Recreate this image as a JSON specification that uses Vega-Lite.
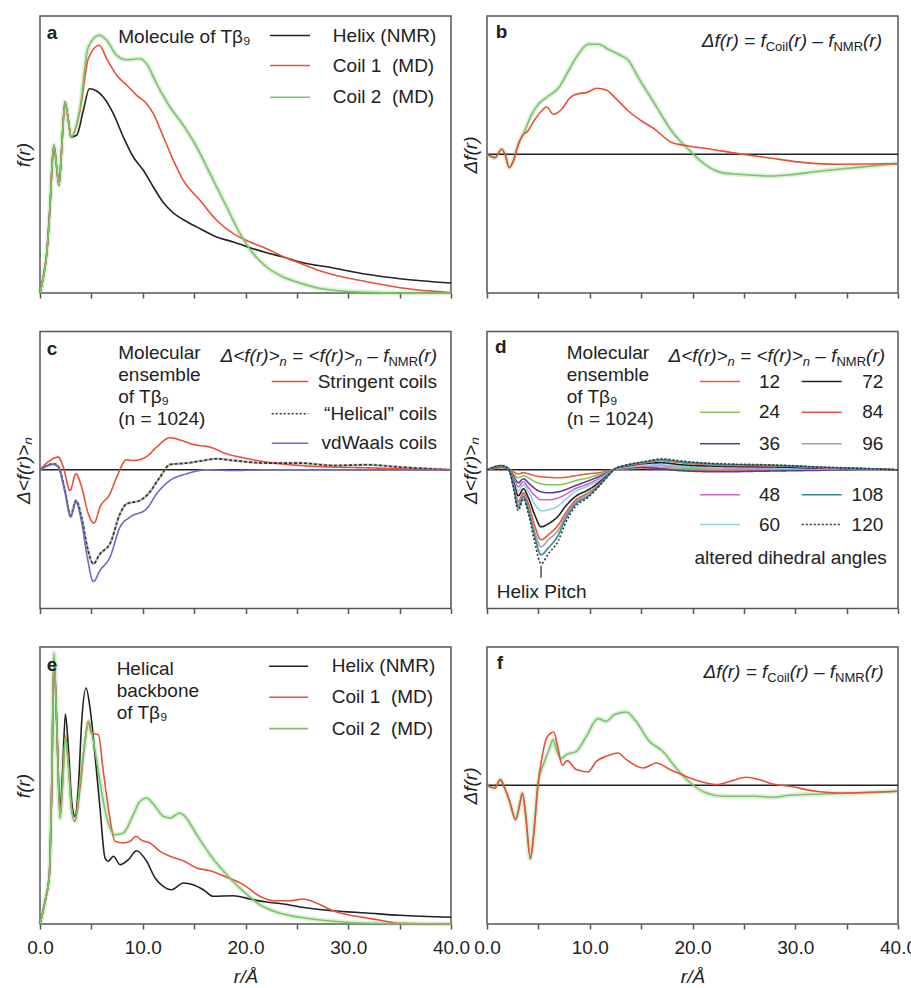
{
"$schema": "https://vega.github.io/schema/vega-lite/v6.json",
"background": "white",
"padding": {"left": 13, "top": 15, "right": 0, "bottom": 0},
"config": {
  "view": {"stroke": "#555555", "strokeWidth": 1.5},
  "font": "Liberation Sans",
  "text": {"font": "Liberation Sans", "fontSize": 19, "color": "#222222", "baseline": "middle", "align": "left"},
  "line": {"strokeWidth": 1.6, "interpolate": "monotone"},
  "rule": {"strokeWidth": 1.6},
  "axisX": {"values": [0,5,10,15,20,25,30,35,40], "labels": false, "domain": false, "grid": false, "ticks": true, "tickSize": 5, "tickWidth": 1.5, "tickColor": "#555555"},
  "axisY": {"labels": false, "ticks": false, "domain": false, "grid": false, "titleFont": "Liberation Sans", "titleFontSize": 19, "titleFontStyle": "italic", "titleFontWeight": "normal", "titleColor": "#222222", "titlePadding": 7}
},
"bounds": "flush",
"columns": 2,
"spacing": {"row": 38.5, "column": 36},
"resolve": {"scale": {"color": "independent", "strokeDash": "independent"}},
"datasets": {
"a": [
{"s":"Helix","r":0,"v":0},{"s":"Helix","r":0.32,"v":16},{"s":"Helix","r":0.65,"v":39},{"s":"Helix","r":0.97,"v":86},{"s":"Helix","r":1.23,"v":136},{"s":"Helix","r":1.36,"v":147.7},{"s":"Helix","r":1.62,"v":126},{"s":"Helix","r":1.85,"v":107.7},{"s":"Helix","r":2.1,"v":142.7},{"s":"Helix","r":2.43,"v":191},{"s":"Helix","r":2.76,"v":172.7},{"s":"Helix","r":3.02,"v":156},
{"s":"Helix","r":3.57,"v":157.7},{"s":"Helix","r":4.22,"v":182.7},{"s":"Helix","r":4.8,"v":204.3},{"s":"Helix","r":5.52,"v":202},{"s":"Helix","r":6.16,"v":196},{"s":"Helix","r":7.14,"v":179.3},{"s":"Helix","r":8.11,"v":156},{"s":"Helix","r":9.08,"v":136},{"s":"Helix","r":10.06,"v":122.7},{"s":"Helix","r":11.03,"v":106},{"s":"Helix","r":12.0,"v":90.5},{"s":"Helix","r":12.98,"v":80},{"s":"Helix","r":14.27,"v":71.5},{"s":"Helix","r":15.57,"v":64.3},{"s":"Helix","r":17.19,"v":56},{"s":"Helix","r":18.82,"v":51},{"s":"Helix","r":20.44,"v":45.3},{"s":"Helix","r":22.06,"v":40.3},{"s":"Helix","r":23.68,"v":36},{"s":"Helix","r":25.3,"v":31},{"s":"Helix","r":28.55,"v":25},{"s":"Helix","r":31.79,"v":18.7},{"s":"Helix","r":35.04,"v":14.3},{"s":"Helix","r":40,"v":10},
{"s":"Coil 1","r":0,"v":0},{"s":"Coil 1","r":0.32,"v":16},{"s":"Coil 1","r":0.65,"v":39},{"s":"Coil 1","r":0.97,"v":86},{"s":"Coil 1","r":1.23,"v":136},{"s":"Coil 1","r":1.36,"v":147.7},{"s":"Coil 1","r":1.62,"v":126},{"s":"Coil 1","r":1.85,"v":107.7},{"s":"Coil 1","r":2.1,"v":142.7},{"s":"Coil 1","r":2.43,"v":191},{"s":"Coil 1","r":2.76,"v":172.7},{"s":"Coil 1","r":3.02,"v":156},
{"s":"Coil 1","r":3.89,"v":182.7},{"s":"Coil 1","r":4.7,"v":234.3},{"s":"Coil 1","r":5.77,"v":247.7},{"s":"Coil 1","r":6.49,"v":234.3},{"s":"Coil 1","r":7.46,"v":217.7},{"s":"Coil 1","r":8.43,"v":208},{"s":"Coil 1","r":9.41,"v":197.7},{"s":"Coil 1","r":10.38,"v":189.3},{"s":"Coil 1","r":11.03,"v":179.3},{"s":"Coil 1","r":12.0,"v":156.3},{"s":"Coil 1","r":12.98,"v":132.7},{"s":"Coil 1","r":13.95,"v":112.7},{"s":"Coil 1","r":15.57,"v":92.7},{"s":"Coil 1","r":17.19,"v":72.7},{"s":"Coil 1","r":18.82,"v":59.3},{"s":"Coil 1","r":20.44,"v":51},{"s":"Coil 1","r":22.06,"v":44.3},{"s":"Coil 1","r":23.68,"v":36.3},{"s":"Coil 1","r":25.3,"v":29.7},{"s":"Coil 1","r":26.93,"v":23.3},{"s":"Coil 1","r":28.55,"v":18.3},{"s":"Coil 1","r":31.79,"v":11.3},{"s":"Coil 1","r":35.04,"v":5.3},{"s":"Coil 1","r":38.28,"v":1.7},{"s":"Coil 1","r":40,"v":0.3},
{"s":"Coil 2","r":0,"v":0},{"s":"Coil 2","r":0.32,"v":16},{"s":"Coil 2","r":0.65,"v":39},{"s":"Coil 2","r":0.97,"v":86},{"s":"Coil 2","r":1.23,"v":136},{"s":"Coil 2","r":1.36,"v":147.7},{"s":"Coil 2","r":1.62,"v":126},{"s":"Coil 2","r":1.85,"v":107.7},{"s":"Coil 2","r":2.1,"v":142.7},{"s":"Coil 2","r":2.43,"v":191},{"s":"Coil 2","r":2.76,"v":172.7},{"s":"Coil 2","r":3.02,"v":156},
{"s":"Coil 2","r":3.89,"v":184.3},{"s":"Coil 2","r":4.61,"v":242.7},{"s":"Coil 2","r":5.03,"v":252},{"s":"Coil 2","r":5.77,"v":257.7},{"s":"Coil 2","r":6.49,"v":252.7},{"s":"Coil 2","r":7.46,"v":237.7},{"s":"Coil 2","r":8.43,"v":233.3},{"s":"Coil 2","r":9.73,"v":234.3},{"s":"Coil 2","r":10.38,"v":229.3},{"s":"Coil 2","r":11.35,"v":209.3},{"s":"Coil 2","r":12.65,"v":186},{"s":"Coil 2","r":13.95,"v":167.7},{"s":"Coil 2","r":15.25,"v":146},{"s":"Coil 2","r":16.55,"v":119.3},{"s":"Coil 2","r":18.17,"v":86},{"s":"Coil 2","r":19.47,"v":59.3},{"s":"Coil 2","r":20.76,"v":39.3},{"s":"Coil 2","r":22.06,"v":26},{"s":"Coil 2","r":23.68,"v":16},{"s":"Coil 2","r":25.3,"v":10},{"s":"Coil 2","r":26.93,"v":5.3},{"s":"Coil 2","r":28.55,"v":2.7},{"s":"Coil 2","r":31.79,"v":0.7},{"s":"Coil 2","r":35.04,"v":0},{"s":"Coil 2","r":40,"v":0}
],
"b": [
{"s":"Coil 2","r":0,"v":0},{"s":"Coil 2","r":0.78,"v":-3.3},{"s":"Coil 2","r":1.43,"v":5},{"s":"Coil 2","r":1.75,"v":0},{"s":"Coil 2","r":2.17,"v":-13.3},{"s":"Coil 2","r":2.56,"v":-6.7},{"s":"Coil 2","r":3.05,"v":10},{"s":"Coil 2","r":3.54,"v":20},{"s":"Coil 2","r":4.35,"v":40},{"s":"Coil 2","r":5.0,"v":50},{"s":"Coil 2","r":5.97,"v":58.3},{"s":"Coil 2","r":6.94,"v":66},{"s":"Coil 2","r":7.92,"v":83.3},{"s":"Coil 2","r":8.89,"v":100},{"s":"Coil 2","r":9.86,"v":110},{"s":"Coil 2","r":10.84,"v":110},{"s":"Coil 2","r":11.8,"v":105},{"s":"Coil 2","r":12.78,"v":100},{"s":"Coil 2","r":13.76,"v":94},{"s":"Coil 2","r":14.73,"v":76.7},{"s":"Coil 2","r":16.35,"v":50},{"s":"Coil 2","r":17.97,"v":23.3},{"s":"Coil 2","r":19.6,"v":5},{"s":"Coil 2","r":21.2,"v":-10},{"s":"Coil 2","r":22.84,"v":-18.3},{"s":"Coil 2","r":24.46,"v":-20},{"s":"Coil 2","r":27.7,"v":-21.7},{"s":"Coil 2","r":29.3,"v":-20.7},{"s":"Coil 2","r":32.57,"v":-16.7},{"s":"Coil 2","r":35.8,"v":-13.3},{"s":"Coil 2","r":40,"v":-9},
{"s":"Coil 1","r":0,"v":0},{"s":"Coil 1","r":0.78,"v":-3.3},{"s":"Coil 1","r":1.43,"v":5},{"s":"Coil 1","r":1.75,"v":0},{"s":"Coil 1","r":2.17,"v":-13.3},{"s":"Coil 1","r":2.56,"v":-6.7},{"s":"Coil 1","r":3.05,"v":10},{"s":"Coil 1","r":3.54,"v":20},{"s":"Coil 1","r":3.86,"v":22},{"s":"Coil 1","r":4.67,"v":35},{"s":"Coil 1","r":5.3,"v":43.3},{"s":"Coil 1","r":5.8,"v":47.3},{"s":"Coil 1","r":6.46,"v":40},{"s":"Coil 1","r":7.27,"v":45},{"s":"Coil 1","r":8.08,"v":56.7},{"s":"Coil 1","r":8.89,"v":60.7},{"s":"Coil 1","r":9.7,"v":61.7},{"s":"Coil 1","r":10.67,"v":66},{"s":"Coil 1","r":11.65,"v":64},{"s":"Coil 1","r":12.46,"v":56.7},{"s":"Coil 1","r":13.76,"v":43.3},{"s":"Coil 1","r":15.05,"v":33.3},{"s":"Coil 1","r":16.35,"v":25},{"s":"Coil 1","r":17.97,"v":11.7},{"s":"Coil 1","r":19.6,"v":8.3},{"s":"Coil 1","r":21.2,"v":6},{"s":"Coil 1","r":24.46,"v":0.7},{"s":"Coil 1","r":27.7,"v":-4},{"s":"Coil 1","r":30.9,"v":-8.3},{"s":"Coil 1","r":34.2,"v":-10},{"s":"Coil 1","r":40,"v":-9.5}
],
"c": [
{"s":"Stringent","r":0,"v":0},{"s":"Stringent","r":0.97,"v":9.3},{"s":"Stringent","r":1.78,"v":12.7},{"s":"Stringent","r":2.27,"v":2.7},{"s":"Stringent","r":2.92,"v":-20.7},{"s":"Stringent","r":3.5,"v":-4},{"s":"Stringent","r":4.05,"v":-17.3},{"s":"Stringent","r":4.7,"v":-44},{"s":"Stringent","r":5.26,"v":-53.3},{"s":"Stringent","r":5.84,"v":-37.3},{"s":"Stringent","r":6.81,"v":-24},{"s":"Stringent","r":7.46,"v":-7.3},{"s":"Stringent","r":8.43,"v":10},{"s":"Stringent","r":9.08,"v":9.3},{"s":"Stringent","r":10.38,"v":13.3},{"s":"Stringent","r":11.35,"v":22.7},{"s":"Stringent","r":12.65,"v":32},{"s":"Stringent","r":13.6,"v":30},{"s":"Stringent","r":14.92,"v":25.3},{"s":"Stringent","r":16.55,"v":22.7},{"s":"Stringent","r":18.17,"v":16},{"s":"Stringent","r":19.8,"v":12},{"s":"Stringent","r":22.06,"v":7.7},{"s":"Stringent","r":25.3,"v":4.3},{"s":"Stringent","r":28.5,"v":2.7},{"s":"Stringent","r":31.8,"v":2},{"s":"Stringent","r":35,"v":1},{"s":"Stringent","r":40,"v":0},
{"s":"Helical","r":0,"v":0},{"s":"Helical","r":1.3,"v":6},{"s":"Helical","r":1.78,"v":3.3},{"s":"Helical","r":2.43,"v":-20.7},{"s":"Helical","r":2.98,"v":-45.7},{"s":"Helical","r":3.5,"v":-30.7},{"s":"Helical","r":4.05,"v":-47.3},{"s":"Helical","r":4.6,"v":-77.3},{"s":"Helical","r":5.19,"v":-94},{"s":"Helical","r":5.84,"v":-84},{"s":"Helical","r":6.81,"v":-74},{"s":"Helical","r":7.79,"v":-44},{"s":"Helical","r":8.43,"v":-34},{"s":"Helical","r":9.73,"v":-30.7},{"s":"Helical","r":10.54,"v":-24},{"s":"Helical","r":11.68,"v":-7.3},{"s":"Helical","r":12.65,"v":5.3},{"s":"Helical","r":14.27,"v":6.7},{"s":"Helical","r":15.57,"v":8.7},{"s":"Helical","r":17.2,"v":11},{"s":"Helical","r":18.8,"v":9.3},{"s":"Helical","r":22.06,"v":6.7},{"s":"Helical","r":25.3,"v":6.7},{"s":"Helical","r":28.5,"v":4.3},{"s":"Helical","r":31.8,"v":5},{"s":"Helical","r":35,"v":2.7},{"s":"Helical","r":40,"v":0},
{"s":"vdWaals","r":0,"v":0},{"s":"vdWaals","r":1.3,"v":5.3},{"s":"vdWaals","r":1.78,"v":2.7},{"s":"vdWaals","r":2.43,"v":-22.3},{"s":"vdWaals","r":2.98,"v":-47.3},{"s":"vdWaals","r":3.5,"v":-32.3},{"s":"vdWaals","r":4.05,"v":-52.3},{"s":"vdWaals","r":4.6,"v":-87.3},{"s":"vdWaals","r":5.19,"v":-111.7},{"s":"vdWaals","r":5.84,"v":-100.7},{"s":"vdWaals","r":6.81,"v":-87.3},{"s":"vdWaals","r":7.79,"v":-57.3},{"s":"vdWaals","r":8.76,"v":-47.3},{"s":"vdWaals","r":10.38,"v":-39},{"s":"vdWaals","r":11.35,"v":-24},{"s":"vdWaals","r":12.65,"v":-10.7},{"s":"vdWaals","r":14.27,"v":-4},{"s":"vdWaals","r":16.2,"v":0},{"s":"vdWaals","r":18.8,"v":-0.7},{"s":"vdWaals","r":22,"v":0},{"s":"vdWaals","r":40,"v":0}
],
"d": [
{"r":0,"n12":0,"n24":0,"n36":0,"n48":0,"n60":0,"n72":0,"n84":0,"n96":0,"n108":0,"n120":0},
{"r":1.43,"n12":2,"n24":2.5,"n36":3,"n48":3,"n60":3.5,"n72":3.5,"n84":4,"n96":4,"n108":4.2,"n120":4.3},
{"r":2.08,"n12":1,"n24":1,"n36":1,"n48":1,"n60":1,"n72":1,"n84":1,"n96":1,"n108":1,"n120":1},
{"r":2.56,"n12":-2,"n24":-4,"n36":-6,"n48":-8,"n60":-9,"n72":-11,"n84":-13,"n96":-15,"n108":-16,"n120":-17.3},
{"r":3.05,"n12":-4,"n24":-8,"n36":-13,"n48":-17,"n60":-21,"n72":-26,"n84":-32,"n96":-35,"n108":-38,"n120":-40.7},
{"r":3.54,"n12":-3,"n24":-6,"n36":-9,"n48":-12,"n60":-15,"n72":-19,"n84":-23,"n96":-25,"n108":-27,"n120":-29},
{"r":4.03,"n12":-4,"n24":-8,"n36":-13,"n48":-18,"n60":-22,"n72":-28,"n84":-34,"n96":-38,"n108":-41,"n120":-44},
{"r":4.68,"n12":-6,"n24":-12,"n36":-19,"n48":-26,"n60":-35,"n72":-46,"n84":-57,"n96":-63,"n108":-68,"n120":-74},
{"r":5.26,"n12":-7,"n24":-14,"n36":-22,"n48":-30,"n60":-41,"n72":-57,"n84":-70,"n96":-77,"n108":-85,"n120":-94},
{"r":5.97,"n12":-7.5,"n24":-15,"n36":-23,"n48":-30,"n60":-40,"n72":-54,"n84":-65,"n96":-70,"n108":-78,"n120":-84},
{"r":6.95,"n12":-8,"n24":-15,"n36":-22,"n48":-28,"n60":-36,"n72":-46,"n84":-55,"n96":-60,"n108":-65,"n120":-70.7},
{"r":7.6,"n12":-7.5,"n24":-14,"n36":-20,"n48":-25,"n60":-30,"n72":-37,"n84":-44,"n96":-47,"n108":-50,"n120":-54},
{"r":8.57,"n12":-6,"n24":-11,"n36":-16,"n48":-19,"n60":-22,"n72":-27,"n84":-31,"n96":-33,"n108":-35,"n120":-37.3},
{"r":9.87,"n12":-4,"n24":-8,"n36":-11,"n48":-14,"n60":-16,"n72":-20,"n84":-23,"n96":-24,"n108":-26,"n120":-27.3},
{"r":10.84,"n12":-3,"n24":-5,"n36":-7,"n48":-9,"n60":-11,"n72":-13,"n84":-15,"n96":-16,"n108":-16.5,"n120":-17.3},
{"r":11.82,"n12":-1,"n24":-2,"n36":-2.5,"n48":-3,"n60":-3.5,"n72":-4.5,"n84":-5,"n96":-5.3,"n108":-5.5,"n120":-5.7},
{"r":12.47,"n12":0.5,"n24":0.5,"n36":0.5,"n48":0.5,"n60":0.5,"n72":1,"n84":1,"n96":1,"n108":1,"n120":1},
{"r":13.77,"n12":1,"n24":1.5,"n36":2,"n48":2.5,"n60":3,"n72":4,"n84":4.5,"n96":5,"n108":5,"n120":5.3},
{"r":15.06,"n12":1.5,"n24":2,"n36":2.5,"n48":3.5,"n60":4.5,"n72":6,"n84":6.5,"n96":7,"n108":7.3,"n120":7.7},
{"r":17.0,"n12":1,"n24":2,"n36":1,"n48":4,"n60":5,"n72":7,"n84":9,"n96":9.5,"n108":10,"n120":11},
{"r":18.96,"n12":0.5,"n24":1.5,"n36":-1,"n48":3,"n60":3.5,"n72":5,"n84":7,"n96":7.5,"n108":8,"n120":8.7},
{"r":22.86,"n12":0,"n24":0.5,"n36":-2,"n48":2,"n60":2.5,"n72":3.5,"n84":4.5,"n96":5,"n108":5.5,"n120":6},
{"r":26.1,"n12":0,"n24":0.5,"n36":-1.5,"n48":1.5,"n60":2,"n72":3,"n84":4,"n96":4.5,"n108":4.8,"n120":5.3},
{"r":29.35,"n12":0,"n24":0.3,"n36":-1,"n48":1,"n60":1.5,"n72":2.5,"n84":3.5,"n96":3.8,"n108":4,"n120":4.3},
{"r":32.6,"n12":0,"n24":0,"n36":-0.5,"n48":0.5,"n60":1,"n72":1.5,"n84":2,"n96":2.3,"n108":2.5,"n120":2.7},
{"r":35.8,"n12":0,"n24":0,"n36":0,"n48":0.3,"n60":0.5,"n72":1,"n84":1.2,"n96":1.4,"n108":1.5,"n120":1.7},
{"r":40,"n12":0,"n24":0,"n36":0,"n48":0,"n60":0,"n72":0,"n84":0,"n96":0,"n108":0,"n120":0}
],
"e": [
{"s":"Helix","r":0,"v":0},{"s":"Helix","r":0.49,"v":22.7},{"s":"Helix","r":0.91,"v":49.3},{"s":"Helix","r":1.14,"v":136},{"s":"Helix","r":1.36,"v":266},{"s":"Helix","r":1.62,"v":202.7},{"s":"Helix","r":1.95,"v":116},{"s":"Helix","r":2.2,"v":152.7},{"s":"Helix","r":2.47,"v":210},{"s":"Helix","r":2.76,"v":176},{"s":"Helix","r":3.08,"v":122.7},{"s":"Helix","r":3.4,"v":107.7},{"s":"Helix","r":3.73,"v":136},{"s":"Helix","r":4.06,"v":202.7},{"s":"Helix","r":4.48,"v":236},{"s":"Helix","r":4.87,"v":216},{"s":"Helix","r":5.35,"v":169.3},{"s":"Helix","r":5.84,"v":116},{"s":"Helix","r":6.33,"v":66},{"s":"Helix","r":6.65,"v":62.7},{"s":"Helix","r":7.14,"v":67.7},{"s":"Helix","r":7.79,"v":59.3},{"s":"Helix","r":8.6,"v":64.3},{"s":"Helix","r":9.4,"v":73.3},{"s":"Helix","r":10.38,"v":62.7},{"s":"Helix","r":11.2,"v":46},{"s":"Helix","r":12.0,"v":37.7},{"s":"Helix","r":12.8,"v":34.3},{"s":"Helix","r":13.95,"v":41},{"s":"Helix","r":14.9,"v":39.3},{"s":"Helix","r":15.9,"v":34.3},{"s":"Helix","r":16.87,"v":27.7},{"s":"Helix","r":18.8,"v":28.3},{"s":"Helix","r":20.4,"v":25},{"s":"Helix","r":22.06,"v":22},{"s":"Helix","r":23.7,"v":20},{"s":"Helix","r":25.3,"v":17},{"s":"Helix","r":28.5,"v":13.3},{"s":"Helix","r":31.8,"v":11},{"s":"Helix","r":35,"v":8.7},{"s":"Helix","r":40,"v":6.7},
{"s":"Coil 1","r":0,"v":0},{"s":"Coil 1","r":0.49,"v":22.7},{"s":"Coil 1","r":0.91,"v":49.3},{"s":"Coil 1","r":1.14,"v":136},{"s":"Coil 1","r":1.36,"v":266},{"s":"Coil 1","r":1.62,"v":202.7},{"s":"Coil 1","r":1.95,"v":106},{"s":"Coil 1","r":2.2,"v":140},{"s":"Coil 1","r":2.47,"v":187.7},{"s":"Coil 1","r":2.76,"v":160},{"s":"Coil 1","r":3.08,"v":115},{"s":"Coil 1","r":3.4,"v":102.7},{"s":"Coil 1","r":3.9,"v":136},{"s":"Coil 1","r":4.38,"v":182.7},{"s":"Coil 1","r":4.7,"v":202.7},{"s":"Coil 1","r":5.0,"v":191},{"s":"Coil 1","r":5.35,"v":190},{"s":"Coil 1","r":5.68,"v":189.3},{"s":"Coil 1","r":6.16,"v":152.7},{"s":"Coil 1","r":6.65,"v":116},{"s":"Coil 1","r":7.3,"v":82.7},{"s":"Coil 1","r":8.1,"v":81},{"s":"Coil 1","r":8.76,"v":82.7},{"s":"Coil 1","r":9.34,"v":87.7},{"s":"Coil 1","r":9.9,"v":83.7},{"s":"Coil 1","r":10.7,"v":81},{"s":"Coil 1","r":11.68,"v":72.7},{"s":"Coil 1","r":12.65,"v":67.7},{"s":"Coil 1","r":13.95,"v":63.3},{"s":"Coil 1","r":15.25,"v":56},{"s":"Coil 1","r":16.55,"v":53.3},{"s":"Coil 1","r":18.17,"v":46.7},{"s":"Coil 1","r":19.8,"v":39.3},{"s":"Coil 1","r":21.4,"v":27.7},{"s":"Coil 1","r":22.7,"v":23.3},{"s":"Coil 1","r":24.3,"v":23.3},{"s":"Coil 1","r":25.6,"v":25},{"s":"Coil 1","r":26.9,"v":21},{"s":"Coil 1","r":28.5,"v":13.3},{"s":"Coil 1","r":30.2,"v":8.7},{"s":"Coil 1","r":31.8,"v":6},{"s":"Coil 1","r":33.4,"v":3.3},{"s":"Coil 1","r":35,"v":0.7},{"s":"Coil 1","r":40,"v":0},
{"s":"Coil 2","r":0,"v":0},{"s":"Coil 2","r":0.49,"v":22.7},{"s":"Coil 2","r":0.91,"v":49.3},{"s":"Coil 2","r":1.14,"v":140},{"s":"Coil 2","r":1.36,"v":271},{"s":"Coil 2","r":1.62,"v":205},{"s":"Coil 2","r":1.95,"v":106},{"s":"Coil 2","r":2.2,"v":140},{"s":"Coil 2","r":2.47,"v":187.7},{"s":"Coil 2","r":2.76,"v":160},{"s":"Coil 2","r":3.08,"v":115},{"s":"Coil 2","r":3.4,"v":102.7},{"s":"Coil 2","r":3.9,"v":142.7},{"s":"Coil 2","r":4.38,"v":182.7},{"s":"Coil 2","r":4.75,"v":202.7},{"s":"Coil 2","r":5.2,"v":182.7},{"s":"Coil 2","r":5.68,"v":152.7},{"s":"Coil 2","r":6.16,"v":122.7},{"s":"Coil 2","r":6.81,"v":96},{"s":"Coil 2","r":7.3,"v":89.3},{"s":"Coil 2","r":8.1,"v":91},{"s":"Coil 2","r":9.08,"v":109.3},{"s":"Coil 2","r":9.73,"v":122.7},{"s":"Coil 2","r":10.38,"v":126},{"s":"Coil 2","r":11.03,"v":120},{"s":"Coil 2","r":12.0,"v":107.7},{"s":"Coil 2","r":12.65,"v":106},{"s":"Coil 2","r":13.6,"v":111},{"s":"Coil 2","r":14.1,"v":107.7},{"s":"Coil 2","r":15.25,"v":89.3},{"s":"Coil 2","r":16.55,"v":69.3},{"s":"Coil 2","r":18.17,"v":49.3},{"s":"Coil 2","r":19.8,"v":32.7},{"s":"Coil 2","r":21.4,"v":19.3},{"s":"Coil 2","r":23.0,"v":12},{"s":"Coil 2","r":25.3,"v":6.7},{"s":"Coil 2","r":28.5,"v":2.7},{"s":"Coil 2","r":31.8,"v":0.7},{"s":"Coil 2","r":40,"v":0}
],
"f": [
{"s":"Coil 2","r":0,"v":0},{"s":"Coil 2","r":0.75,"v":-2.7},{"s":"Coil 2","r":1.3,"v":5.7},{"s":"Coil 2","r":1.72,"v":-2.7},{"s":"Coil 2","r":2.2,"v":-16},{"s":"Coil 2","r":2.79,"v":-34.3},{"s":"Coil 2","r":3.18,"v":-19.3},{"s":"Coil 2","r":3.44,"v":-7.7},{"s":"Coil 2","r":3.76,"v":-29.3},{"s":"Coil 2","r":4.22,"v":-73.3},{"s":"Coil 2","r":4.54,"v":-49.3},{"s":"Coil 2","r":4.96,"v":0.7},{"s":"Coil 2","r":5.6,"v":24},{"s":"Coil 2","r":6.1,"v":37.3},{"s":"Coil 2","r":6.42,"v":45.7},{"s":"Coil 2","r":6.75,"v":35.7},{"s":"Coil 2","r":7.23,"v":26.7},{"s":"Coil 2","r":7.72,"v":30.7},{"s":"Coil 2","r":8.7,"v":34},{"s":"Coil 2","r":9.67,"v":49},{"s":"Coil 2","r":10.8,"v":66.7},{"s":"Coil 2","r":11.6,"v":64},{"s":"Coil 2","r":12.4,"v":70.7},{"s":"Coil 2","r":13.56,"v":73.3},{"s":"Coil 2","r":14.5,"v":64},{"s":"Coil 2","r":15.8,"v":44},{"s":"Coil 2","r":17.1,"v":34},{"s":"Coil 2","r":18.4,"v":17.3},{"s":"Coil 2","r":19.7,"v":3.3},{"s":"Coil 2","r":21.35,"v":-7.7},{"s":"Coil 2","r":23.0,"v":-11},{"s":"Coil 2","r":26.2,"v":-11},{"s":"Coil 2","r":27.8,"v":-12},{"s":"Coil 2","r":29.45,"v":-10},{"s":"Coil 2","r":32.7,"v":-8.7},{"s":"Coil 2","r":35.9,"v":-7.7},{"s":"Coil 2","r":40,"v":-6},
{"s":"Coil 1","r":0,"v":0},{"s":"Coil 1","r":0.75,"v":-2.7},{"s":"Coil 1","r":1.3,"v":5.7},{"s":"Coil 1","r":1.72,"v":-2.7},{"s":"Coil 1","r":2.2,"v":-16},{"s":"Coil 1","r":2.79,"v":-34.3},{"s":"Coil 1","r":3.18,"v":-19.3},{"s":"Coil 1","r":3.44,"v":-7.7},{"s":"Coil 1","r":3.76,"v":-29.3},{"s":"Coil 1","r":4.22,"v":-73.3},{"s":"Coil 1","r":4.54,"v":-49.3},{"s":"Coil 1","r":4.96,"v":0.7},{"s":"Coil 1","r":5.4,"v":30.7},{"s":"Coil 1","r":5.8,"v":47.3},{"s":"Coil 1","r":6.5,"v":53.3},{"s":"Coil 1","r":6.9,"v":37.3},{"s":"Coil 1","r":7.33,"v":20},{"s":"Coil 1","r":7.8,"v":24.7},{"s":"Coil 1","r":8.7,"v":15.7},{"s":"Coil 1","r":9.83,"v":13.3},{"s":"Coil 1","r":10.64,"v":24},{"s":"Coil 1","r":11.6,"v":29},{"s":"Coil 1","r":12.75,"v":32.3},{"s":"Coil 1","r":13.56,"v":25.7},{"s":"Coil 1","r":15.2,"v":17.3},{"s":"Coil 1","r":16.5,"v":22.3},{"s":"Coil 1","r":17.8,"v":15.7},{"s":"Coil 1","r":19.1,"v":10},{"s":"Coil 1","r":20.7,"v":4},{"s":"Coil 1","r":22.3,"v":0.7},{"s":"Coil 1","r":23.9,"v":4.7},{"s":"Coil 1","r":25.2,"v":8},{"s":"Coil 1","r":26.5,"v":5.7},{"s":"Coil 1","r":27.8,"v":1.3},{"s":"Coil 1","r":29.45,"v":-1},{"s":"Coil 1","r":32.05,"v":-6},{"s":"Coil 1","r":34.3,"v":-7.7},{"s":"Coil 1","r":40,"v":-6}
]
},
"concat": [
{
"width": 411, "height": 277,
"layer": [
{"data": {"name": "a"}, "transform": [{"filter": "datum.s === 'Coil 2'"}], "mark": {"type": "line", "color": "#7cc36a", "strokeWidth": 5, "opacity": 0.25},
 "encoding": {"x": {"field": "r", "type": "quantitative", "scale": {"domain": [0, 40], "nice": false, "zero": false}, "axis": {"title": null}}, "y": {"field": "v", "type": "quantitative", "scale": {"domain": [0, 277], "nice": false, "zero": false}, "axis": {"title": "f(r)"}}}},
{"data": {"name": "a"}, "mark": "line",
 "encoding": {"x": {"field": "r", "type": "quantitative", "scale": {"domain": [0, 40], "nice": false, "zero": false}, "axis": {"title": null}}, "y": {"field": "v", "type": "quantitative", "scale": {"domain": [0, 277], "nice": false, "zero": false}, "axis": {"title": "f(r)"}},
  "color": {"field": "s", "type": "nominal", "scale": {"domain": ["Helix", "Coil 1", "Coil 2"], "range": ["#222222", "#e8503a", "#7cc36a"]}, "legend": null}}},
{"data": {"values": [{}]}, "mark": {"type": "text", "text": "a", "fontWeight": "bold"}, "encoding": {"x": {"datum": 0.65}, "y": {"datum": 260.5}}},
{"data": {"values": [{}]}, "mark": {"type": "text", "text": "Molecule of Tβ₉"}, "encoding": {"x": {"datum": 7.62}, "y": {"datum": 256.5}}},
{"data": {"values": [{}]}, "mark": {"type": "rule", "color": "#222222"}, "encoding": {"x": {"datum": 22.38}, "x2": {"datum": 26.28}, "y": {"datum": 257.5}}},
{"data": {"values": [{}]}, "mark": {"type": "rule", "color": "#e8503a"}, "encoding": {"x": {"datum": 22.38}, "x2": {"datum": 26.28}, "y": {"datum": 227.5}}},
{"data": {"values": [{}]}, "mark": {"type": "rule", "color": "#7cc36a"}, "encoding": {"x": {"datum": 22.38}, "x2": {"datum": 26.28}, "y": {"datum": 195.8}}},
{"data": {"values": [{}]}, "mark": {"type": "text", "text": "Helix (NMR)"}, "encoding": {"x": {"datum": 28.5}, "y": {"datum": 257.5}}},
{"data": {"values": [{}]}, "mark": {"type": "text", "text": "Coil 1\u00a0 (MD)"}, "encoding": {"x": {"datum": 28.5}, "y": {"datum": 227.5}}},
{"data": {"values": [{}]}, "mark": {"type": "text", "text": "Coil 2\u00a0 (MD)"}, "encoding": {"x": {"datum": 28.5}, "y": {"datum": 195.8}}}
]
},
{
"width": 411, "height": 277,
"layer": [
{"data": {"name": "b"}, "transform": [{"filter": "datum.s === 'Coil 2'"}], "mark": {"type": "line", "color": "#7cc36a", "strokeWidth": 5, "opacity": 0.25},
 "encoding": {"x": {"field": "r", "type": "quantitative", "scale": {"domain": [0, 40], "nice": false, "zero": false}, "axis": {"title": null}}, "y": {"field": "v", "type": "quantitative", "scale": {"domain": [-138.7, 138.3], "nice": false, "zero": false}, "axis": {"title": "Δf(r)"}}}},
{"data": {"values": [{}]}, "mark": {"type": "rule", "color": "#222222"}, "encoding": {"y": {"datum": 0}}},
{"data": {"name": "b"}, "mark": "line",
 "encoding": {"x": {"field": "r", "type": "quantitative", "scale": {"domain": [0, 40], "nice": false, "zero": false}, "axis": {"title": null}}, "y": {"field": "v", "type": "quantitative", "scale": {"domain": [-138.7, 138.3], "nice": false, "zero": false}, "axis": {"title": "Δf(r)"}},
  "color": {"field": "s", "type": "nominal", "scale": {"domain": ["Coil 1", "Coil 2"], "range": ["#e8503a", "#7cc36a"]}, "legend": null}}},
{"data": {"values": [{}]}, "mark": {"type": "text", "text": "b", "fontWeight": "bold"}, "encoding": {"x": {"datum": 0.85}, "y": {"datum": 122.6}}},
{"data": {"values": [{}]}, "mark": {"type": "text", "text": "Δf(r) = f", "fontStyle": "italic", "baseline": "alphabetic"}, "encoding": {"x": {"datum": 20.9}, "y": {"datum": 107.3}}},
{"data": {"values": [{}]}, "mark": {"type": "text", "text": "Coil", "fontSize": 13, "dx": 63.9, "dy": 4, "baseline": "alphabetic"}, "encoding": {"x": {"datum": 20.9}, "y": {"datum": 107.3}}},
{"data": {"values": [{}]}, "mark": {"type": "text", "text": "(r) – f", "fontStyle": "italic", "dx": 86.3, "baseline": "alphabetic"}, "encoding": {"x": {"datum": 20.9}, "y": {"datum": 107.3}}},
{"data": {"values": [{}]}, "mark": {"type": "text", "text": "NMR", "fontSize": 13, "dx": 131.7, "dy": 4, "baseline": "alphabetic"}, "encoding": {"x": {"datum": 20.9}, "y": {"datum": 107.3}}},
{"data": {"values": [{}]}, "mark": {"type": "text", "text": "(r)", "fontStyle": "italic", "dx": 161.3, "baseline": "alphabetic"}, "encoding": {"x": {"datum": 20.9}, "y": {"datum": 107.3}}}
]
},
{
"width": 411, "height": 277,
"layer": [
{"data": {"values": [{}]}, "mark": {"type": "rule", "color": "#222222"}, "encoding": {"y": {"datum": 0}}},
{"data": {"name": "c"}, "transform": [{"filter": "datum.s === 'Helical'"}], "mark": {"type": "line", "color": "#9a9a9a", "strokeWidth": 2.5, "opacity": 0.6},
 "encoding": {"x": {"field": "r", "type": "quantitative", "scale": {"domain": [0, 40], "nice": false, "zero": false}, "axis": {"title": null}}, "y": {"field": "v", "type": "quantitative", "scale": {"domain": [-138.7, 138.3], "nice": false, "zero": false}, "axis": {"title": "Δ<f(r)>ₙ"}}}},
{"data": {"name": "c"}, "mark": "line",
 "encoding": {"x": {"field": "r", "type": "quantitative", "scale": {"domain": [0, 40], "nice": false, "zero": false}, "axis": {"title": null}}, "y": {"field": "v", "type": "quantitative", "scale": {"domain": [-138.7, 138.3], "nice": false, "zero": false}, "axis": {"title": "Δ<f(r)>ₙ"}},
  "color": {"field": "s", "type": "nominal", "scale": {"domain": ["Stringent", "Helical", "vdWaals"], "range": ["#e8503a", "#333333", "#6b6bc0"]}, "legend": null},
  "strokeDash": {"field": "s", "type": "nominal", "scale": {"domain": ["Stringent", "Helical", "vdWaals"], "range": [[1, 0], [3, 2], [1, 0]]}, "legend": null}}},
{"data": {"values": [{}]}, "mark": {"type": "text", "text": "c", "fontWeight": "bold"}, "encoding": {"x": {"datum": 0.65}, "y": {"datum": 121}}},
{"data": {"values": [{}]}, "mark": {"type": "text", "text": ["Molecular", "ensemble", "of Tβ₉", "(n = 1024)"], "lineHeight": 22, "baseline": "alphabetic"}, "encoding": {"x": {"datum": 7.62}, "y": {"datum": 110.6}}},
{"data": {"values": [{}]}, "mark": {"type": "text", "text": "Δ<f(r)>", "fontStyle": "italic", "baseline": "alphabetic"}, "encoding": {"x": {"datum": 17.56}, "y": {"datum": 108.3}}},
{"data": {"values": [{}]}, "mark": {"type": "text", "text": "n", "fontSize": 13, "fontStyle": "italic", "dx": 59.1, "dy": 4, "baseline": "alphabetic"}, "encoding": {"x": {"datum": 17.56}, "y": {"datum": 108.3}}},
{"data": {"values": [{}]}, "mark": {"type": "text", "text": "= <f(r)>", "fontStyle": "italic", "dx": 71.6, "baseline": "alphabetic"}, "encoding": {"x": {"datum": 17.56}, "y": {"datum": 108.3}}},
{"data": {"values": [{}]}, "mark": {"type": "text", "text": "n", "fontSize": 13, "fontStyle": "italic", "dx": 134.4, "dy": 4, "baseline": "alphabetic"}, "encoding": {"x": {"datum": 17.56}, "y": {"datum": 108.3}}},
{"data": {"values": [{}]}, "mark": {"type": "text", "text": "– f", "fontStyle": "italic", "dx": 146.9, "baseline": "alphabetic"}, "encoding": {"x": {"datum": 17.56}, "y": {"datum": 108.3}}},
{"data": {"values": [{}]}, "mark": {"type": "text", "text": "NMR", "fontSize": 13, "dx": 168.0, "dy": 4, "baseline": "alphabetic"}, "encoding": {"x": {"datum": 17.56}, "y": {"datum": 108.3}}},
{"data": {"values": [{}]}, "mark": {"type": "text", "text": "(r)", "fontStyle": "italic", "dx": 197.6, "baseline": "alphabetic"}, "encoding": {"x": {"datum": 17.56}, "y": {"datum": 108.3}}},
{"data": {"values": [{}]}, "mark": {"type": "rule", "color": "#e8503a"}, "encoding": {"x": {"datum": 22.55}, "x2": {"datum": 26.11}, "y": {"datum": 88.3}}},
{"data": {"values": [{}]}, "mark": {"type": "rule", "color": "#333333", "strokeDash": [2, 2]}, "encoding": {"x": {"datum": 22.55}, "x2": {"datum": 26.11}, "y": {"datum": 56}}},
{"data": {"values": [{}]}, "mark": {"type": "rule", "color": "#6b6bc0"}, "encoding": {"x": {"datum": 22.55}, "x2": {"datum": 26.11}, "y": {"datum": 26.6}}},
{"data": {"values": [{}]}, "mark": {"type": "text", "text": "Stringent coils", "align": "right"}, "encoding": {"x": {"datum": 38.64}, "y": {"datum": 88.3}}},
{"data": {"values": [{}]}, "mark": {"type": "text", "text": "“Helical” coils", "align": "right"}, "encoding": {"x": {"datum": 38.64}, "y": {"datum": 56}}},
{"data": {"values": [{}]}, "mark": {"type": "text", "text": "vdWaals coils", "align": "right"}, "encoding": {"x": {"datum": 38.64}, "y": {"datum": 26.6}}}
]
},
{
"width": 411, "height": 277,
"layer": [
{"data": {"values": [{}]}, "mark": {"type": "rule", "color": "#222222"}, "encoding": {"y": {"datum": 0}}},
{"data": {"name": "d"}, "transform": [{"fold": ["n12", "n24", "n36", "n48", "n60", "n72", "n84", "n96", "n108", "n120"], "as": ["s", "v"]}], "mark": "line",
 "encoding": {"x": {"field": "r", "type": "quantitative", "scale": {"domain": [0, 40], "nice": false, "zero": false}, "axis": {"title": null}}, "y": {"field": "v", "type": "quantitative", "scale": {"domain": [-138.7, 138.3], "nice": false, "zero": false}, "axis": {"title": "Δ<f(r)>ₙ"}},
  "color": {"field": "s", "type": "nominal", "scale": {"domain": ["n12", "n24", "n36", "n48", "n60", "n72", "n84", "n96", "n108", "n120"], "range": ["#e8603c", "#86c45a", "#5b3d99", "#c86ac8", "#8fd0ea", "#222222", "#e8503a", "#a0a0a0", "#2f8a96", "#333333"]}, "legend": null},
  "strokeDash": {"field": "s", "type": "nominal", "scale": {"domain": ["n12", "n24", "n36", "n48", "n60", "n72", "n84", "n96", "n108", "n120"], "range": [[1,0],[1,0],[1,0],[1,0],[1,0],[1,0],[1,0],[1,0],[1,0],[2,2]]}, "legend": null}}},
{"data": {"values": [{}]}, "mark": {"type": "text", "text": "d", "fontWeight": "bold"}, "encoding": {"x": {"datum": 0.78}, "y": {"datum": 122.6}}},
{"data": {"values": [{}]}, "mark": {"type": "text", "text": ["Molecular", "ensemble", "of Tβ₉", "(n = 1024)"], "lineHeight": 22, "baseline": "alphabetic"}, "encoding": {"x": {"datum": 7.76}, "y": {"datum": 110.6}}},
{"data": {"values": [{}]}, "mark": {"type": "text", "text": "Δ<f(r)>", "fontStyle": "italic", "baseline": "alphabetic"}, "encoding": {"x": {"datum": 17.66}, "y": {"datum": 108.3}}},
{"data": {"values": [{}]}, "mark": {"type": "text", "text": "n", "fontSize": 13, "fontStyle": "italic", "dx": 59.1, "dy": 4, "baseline": "alphabetic"}, "encoding": {"x": {"datum": 17.66}, "y": {"datum": 108.3}}},
{"data": {"values": [{}]}, "mark": {"type": "text", "text": "= <f(r)>", "fontStyle": "italic", "dx": 71.6, "baseline": "alphabetic"}, "encoding": {"x": {"datum": 17.66}, "y": {"datum": 108.3}}},
{"data": {"values": [{}]}, "mark": {"type": "text", "text": "n", "fontSize": 13, "fontStyle": "italic", "dx": 134.4, "dy": 4, "baseline": "alphabetic"}, "encoding": {"x": {"datum": 17.66}, "y": {"datum": 108.3}}},
{"data": {"values": [{}]}, "mark": {"type": "text", "text": "– f", "fontStyle": "italic", "dx": 146.9, "baseline": "alphabetic"}, "encoding": {"x": {"datum": 17.66}, "y": {"datum": 108.3}}},
{"data": {"values": [{}]}, "mark": {"type": "text", "text": "NMR", "fontSize": 13, "dx": 168.0, "dy": 4, "baseline": "alphabetic"}, "encoding": {"x": {"datum": 17.66}, "y": {"datum": 108.3}}},
{"data": {"values": [{}]}, "mark": {"type": "text", "text": "(r)", "fontStyle": "italic", "dx": 197.6, "baseline": "alphabetic"}, "encoding": {"x": {"datum": 17.66}, "y": {"datum": 108.3}}},
{"data": {"values": [{}]}, "mark": {"type": "rule", "color": "#e8603c"}, "encoding": {"x": {"datum": 20.73}, "x2": {"datum": 24.62}, "y": {"datum": 88.3}}},
{"data": {"values": [{}]}, "mark": {"type": "rule", "color": "#86c45a"}, "encoding": {"x": {"datum": 20.73}, "x2": {"datum": 24.62}, "y": {"datum": 57.6}}},
{"data": {"values": [{}]}, "mark": {"type": "rule", "color": "#5b3d99"}, "encoding": {"x": {"datum": 20.73}, "x2": {"datum": 24.62}, "y": {"datum": 26}}},
{"data": {"values": [{}]}, "mark": {"type": "rule", "color": "#c86ac8"}, "encoding": {"x": {"datum": 20.73}, "x2": {"datum": 24.62}, "y": {"datum": -25}}},
{"data": {"values": [{}]}, "mark": {"type": "rule", "color": "#8fd0ea"}, "encoding": {"x": {"datum": 20.73}, "x2": {"datum": 24.62}, "y": {"datum": -54.7}}},
{"data": {"values": [{}]}, "mark": {"type": "rule", "color": "#222222"}, "encoding": {"x": {"datum": 30.63}, "x2": {"datum": 34.52}, "y": {"datum": 88.3}}},
{"data": {"values": [{}]}, "mark": {"type": "rule", "color": "#e8503a"}, "encoding": {"x": {"datum": 30.63}, "x2": {"datum": 34.52}, "y": {"datum": 57.6}}},
{"data": {"values": [{}]}, "mark": {"type": "rule", "color": "#a0a0a0"}, "encoding": {"x": {"datum": 30.63}, "x2": {"datum": 34.52}, "y": {"datum": 26}}},
{"data": {"values": [{}]}, "mark": {"type": "rule", "color": "#2f8a96"}, "encoding": {"x": {"datum": 30.63}, "x2": {"datum": 34.52}, "y": {"datum": -25}}},
{"data": {"values": [{}]}, "mark": {"type": "rule", "color": "#333333", "strokeDash": [2, 2]}, "encoding": {"x": {"datum": 30.63}, "x2": {"datum": 34.52}, "y": {"datum": -54.7}}},
{"data": {"values": [{}]}, "mark": {"type": "text", "text": "12", "align": "right"}, "encoding": {"x": {"datum": 28.52}, "y": {"datum": 88.3}}},
{"data": {"values": [{}]}, "mark": {"type": "text", "text": "24", "align": "right"}, "encoding": {"x": {"datum": 28.52}, "y": {"datum": 57.6}}},
{"data": {"values": [{}]}, "mark": {"type": "text", "text": "36", "align": "right"}, "encoding": {"x": {"datum": 28.52}, "y": {"datum": 26}}},
{"data": {"values": [{}]}, "mark": {"type": "text", "text": "48", "align": "right"}, "encoding": {"x": {"datum": 28.52}, "y": {"datum": -25}}},
{"data": {"values": [{}]}, "mark": {"type": "text", "text": "60", "align": "right"}, "encoding": {"x": {"datum": 28.52}, "y": {"datum": -54.7}}},
{"data": {"values": [{}]}, "mark": {"type": "text", "text": "72", "align": "right"}, "encoding": {"x": {"datum": 38.57}, "y": {"datum": 88.3}}},
{"data": {"values": [{}]}, "mark": {"type": "text", "text": "84", "align": "right"}, "encoding": {"x": {"datum": 38.57}, "y": {"datum": 57.6}}},
{"data": {"values": [{}]}, "mark": {"type": "text", "text": "96", "align": "right"}, "encoding": {"x": {"datum": 38.57}, "y": {"datum": 26}}},
{"data": {"values": [{}]}, "mark": {"type": "text", "text": "108", "align": "right"}, "encoding": {"x": {"datum": 38.57}, "y": {"datum": -25}}},
{"data": {"values": [{}]}, "mark": {"type": "text", "text": "120", "align": "right"}, "encoding": {"x": {"datum": 38.57}, "y": {"datum": -54.7}}},
{"data": {"values": [{}]}, "mark": {"type": "text", "text": "altered dihedral angles", "align": "right"}, "encoding": {"x": {"datum": 38.9}, "y": {"datum": -88}}},
{"data": {"values": [{}]}, "mark": {"type": "rule", "color": "#222222", "strokeWidth": 1.2}, "encoding": {"x": {"datum": 5.26}, "y": {"datum": -96}, "y2": {"datum": -108}}},
{"data": {"values": [{}]}, "mark": {"type": "text", "text": "Helix Pitch", "align": "center"}, "encoding": {"x": {"datum": 5.32}, "y": {"datum": -122.4}}}
]
},
{
"width": 411, "height": 277,
"layer": [
{"data": {"name": "e"}, "transform": [{"filter": "datum.s === 'Coil 2'"}], "mark": {"type": "line", "color": "#7cc36a", "strokeWidth": 5, "opacity": 0.25},
 "encoding": {"x": {"field": "r", "type": "quantitative", "scale": {"domain": [0, 40], "nice": false, "zero": false}, "axis": {"title": "r/Å", "labels": true, "labelExpr": "datum.value % 10 === 0 ? format(datum.value, '.1f') : ''", "labelFont": "Liberation Sans", "labelFontSize": 19, "labelColor": "#222222", "labelPadding": 9, "labelOverlap": false, "labelFlush": false, "labelBound": false, "titleFont": "Liberation Sans", "titleFontSize": 19, "titleFontStyle": "italic", "titleFontWeight": "normal", "titleColor": "#222222", "titlePadding": 10}}, "y": {"field": "v", "type": "quantitative", "scale": {"domain": [0, 277], "nice": false, "zero": false}, "axis": {"title": "f(r)"}}}},
{"data": {"name": "e"}, "mark": "line",
 "encoding": {"x": {"field": "r", "type": "quantitative", "scale": {"domain": [0, 40], "nice": false, "zero": false}, "axis": {"title": "r/Å", "labels": true, "labelExpr": "datum.value % 10 === 0 ? format(datum.value, '.1f') : ''", "labelFont": "Liberation Sans", "labelFontSize": 19, "labelColor": "#222222", "labelPadding": 9, "labelOverlap": false, "labelFlush": false, "labelBound": false, "titleFont": "Liberation Sans", "titleFontSize": 19, "titleFontStyle": "italic", "titleFontWeight": "normal", "titleColor": "#222222", "titlePadding": 10}}, "y": {"field": "v", "type": "quantitative", "scale": {"domain": [0, 277], "nice": false, "zero": false}, "axis": {"title": "f(r)"}},
  "color": {"field": "s", "type": "nominal", "scale": {"domain": ["Helix", "Coil 1", "Coil 2"], "range": ["#222222", "#e8503a", "#7cc36a"]}, "legend": null}}},
{"data": {"values": [{}]}, "mark": {"type": "text", "text": "e", "fontWeight": "bold"}, "encoding": {"x": {"datum": 0.65}, "y": {"datum": 259.4}}},
{"data": {"values": [{}]}, "mark": {"type": "text", "text": ["Helical", "backbone", "of Tβ₉"], "lineHeight": 22, "baseline": "alphabetic"}, "encoding": {"x": {"datum": 7.46}, "y": {"datum": 249}}},
{"data": {"values": [{}]}, "mark": {"type": "rule", "color": "#222222"}, "encoding": {"x": {"datum": 22.3}, "x2": {"datum": 26.1}, "y": {"datum": 257.7}}},
{"data": {"values": [{}]}, "mark": {"type": "rule", "color": "#e8503a"}, "encoding": {"x": {"datum": 22.3}, "x2": {"datum": 26.1}, "y": {"datum": 226.7}}},
{"data": {"values": [{}]}, "mark": {"type": "rule", "color": "#7cc36a"}, "encoding": {"x": {"datum": 22.3}, "x2": {"datum": 26.1}, "y": {"datum": 195.4}}},
{"data": {"values": [{}]}, "mark": {"type": "text", "text": "Helix (NMR)"}, "encoding": {"x": {"datum": 28.4}, "y": {"datum": 257.7}}},
{"data": {"values": [{}]}, "mark": {"type": "text", "text": "Coil 1\u00a0 (MD)"}, "encoding": {"x": {"datum": 28.4}, "y": {"datum": 226.7}}},
{"data": {"values": [{}]}, "mark": {"type": "text", "text": "Coil 2\u00a0 (MD)"}, "encoding": {"x": {"datum": 28.4}, "y": {"datum": 195.4}}}
]
},
{
"width": 411, "height": 277,
"layer": [
{"data": {"name": "f"}, "transform": [{"filter": "datum.s === 'Coil 2'"}], "mark": {"type": "line", "color": "#7cc36a", "strokeWidth": 5, "opacity": 0.25},
 "encoding": {"x": {"field": "r", "type": "quantitative", "scale": {"domain": [0, 40], "nice": false, "zero": false}, "axis": {"title": "r/Å", "labels": true, "labelExpr": "datum.value % 10 === 0 ? format(datum.value, '.1f') : ''", "labelFont": "Liberation Sans", "labelFontSize": 19, "labelColor": "#222222", "labelPadding": 9, "labelOverlap": false, "labelFlush": false, "labelBound": false, "titleFont": "Liberation Sans", "titleFontSize": 19, "titleFontStyle": "italic", "titleFontWeight": "normal", "titleColor": "#222222", "titlePadding": 10}}, "y": {"field": "v", "type": "quantitative", "scale": {"domain": [-138.7, 138.3], "nice": false, "zero": false}, "axis": {"title": "Δf(r)"}}}},
{"data": {"values": [{}]}, "mark": {"type": "rule", "color": "#222222"}, "encoding": {"y": {"datum": 0}}},
{"data": {"name": "f"}, "mark": "line",
 "encoding": {"x": {"field": "r", "type": "quantitative", "scale": {"domain": [0, 40], "nice": false, "zero": false}, "axis": {"title": "r/Å", "labels": true, "labelExpr": "datum.value % 10 === 0 ? format(datum.value, '.1f') : ''", "labelFont": "Liberation Sans", "labelFontSize": 19, "labelColor": "#222222", "labelPadding": 9, "labelOverlap": false, "labelFlush": false, "labelBound": false, "titleFont": "Liberation Sans", "titleFontSize": 19, "titleFontStyle": "italic", "titleFontWeight": "normal", "titleColor": "#222222", "titlePadding": 10}}, "y": {"field": "v", "type": "quantitative", "scale": {"domain": [-138.7, 138.3], "nice": false, "zero": false}, "axis": {"title": "Δf(r)"}},
  "color": {"field": "s", "type": "nominal", "scale": {"domain": ["Coil 1", "Coil 2"], "range": ["#e8503a", "#7cc36a"]}, "legend": null}}},
{"data": {"values": [{}]}, "mark": {"type": "text", "text": "f", "fontWeight": "bold"}, "encoding": {"x": {"datum": 0.94}, "y": {"datum": 122.3}}},
{"data": {"values": [{}]}, "mark": {"type": "text", "text": "Δf(r) = f", "fontStyle": "italic", "baseline": "alphabetic"}, "encoding": {"x": {"datum": 21.06}, "y": {"datum": 107}}},
{"data": {"values": [{}]}, "mark": {"type": "text", "text": "Coil", "fontSize": 13, "dx": 63.9, "dy": 4, "baseline": "alphabetic"}, "encoding": {"x": {"datum": 21.06}, "y": {"datum": 107}}},
{"data": {"values": [{}]}, "mark": {"type": "text", "text": "(r) – f", "fontStyle": "italic", "dx": 86.3, "baseline": "alphabetic"}, "encoding": {"x": {"datum": 21.06}, "y": {"datum": 107}}},
{"data": {"values": [{}]}, "mark": {"type": "text", "text": "NMR", "fontSize": 13, "dx": 131.7, "dy": 4, "baseline": "alphabetic"}, "encoding": {"x": {"datum": 21.06}, "y": {"datum": 107}}},
{"data": {"values": [{}]}, "mark": {"type": "text", "text": "(r)", "fontStyle": "italic", "dx": 161.3, "baseline": "alphabetic"}, "encoding": {"x": {"datum": 21.06}, "y": {"datum": 107}}}
]
}
]
}
